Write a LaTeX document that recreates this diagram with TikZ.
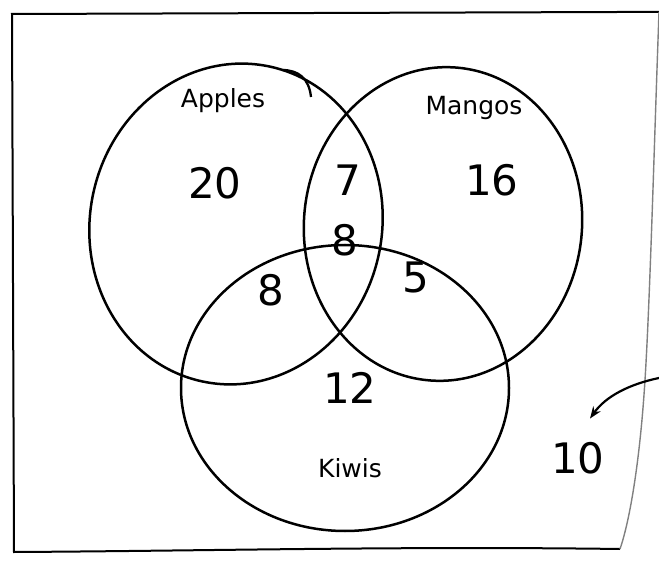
\documentclass[tikz,border=0pt]{standalone}
\usepackage{fontspec}
\setmainfont{DejaVu Sans}
\usetikzlibrary{positioning,arrows.meta}
\tikzset{
  ring/.style={line width=2.5pt},
  setlabel/.style={font=\fontsize{25}{25}\selectfont},
  count/.style={font=\fontsize{42}{42}\selectfont}
}
\begin{document}
\begin{tikzpicture}[x=1pt,y=-1pt]
\useasboundingbox (0,0) rectangle (659,561);
% frame
\draw[line width=2pt] (659,12) -- (618,12) -- (12,14) -- (14,552)
  .. controls (200,551) and (400,546) .. (620,549);
\draw[line width=1.4pt,gray] (659,12) .. controls (654,150) and (650,300) .. (645,380)
  .. controls (640,460) and (630,520) .. (620,549);

% the three sets
\draw[ring,rotate around={-12:(236,224)}] (236,224) ellipse (146 and 161);
\draw[ring,rotate around={-6:(443,224)}] (443,224) ellipse (139 and 157);
\draw[ring] (345,388) ellipse (164 and 143);
\draw[line width=2.3pt] (282,70) .. controls (298,70) and (309,78) .. (311,97);

\node[setlabel] (apples) at (223,101) {Apples};
\node[setlabel] (mangos) at (474,108) {Mangos};
\node[setlabel] (kiwis) at (350,468) {Kiwis};

\node[count] (a) at (215,183) {20};
\node[count] (am) at (348,180) {7};
\node[count] (m) at (492,180) {16};
\node[count] (amk) at (345,240) {8};
\node[count] (ak) at (271,290) {8};
\node[count] (mk) at (416,277) {5};
\node[count] (k) at (350,388) {12};
\node[count] (none) at (578,458) {10};

\coordinate (outside) at (659,378);
\coordinate[above right=20pt and 12pt of none.north] (tip);
\draw[line width=2.2pt,-{Stealth[length=12pt]}] (outside) .. controls (630,384) and (606,396) .. (tip);
\end{tikzpicture}
\end{document}
